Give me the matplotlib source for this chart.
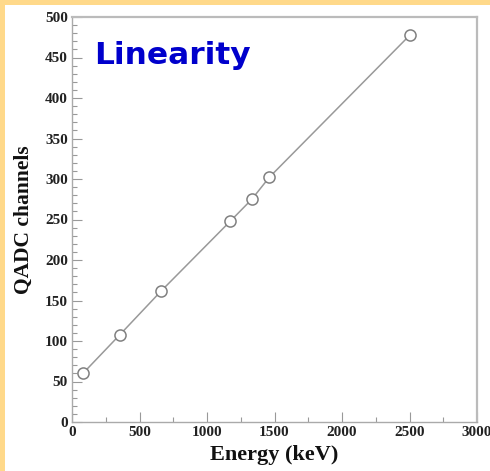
import matplotlib.pyplot as plt
from matplotlib.ticker import MultipleLocator
from matplotlib.patches import Rectangle

# Calibration points: gamma line energy vs. QADC peak position
energy_kev = [81, 356, 662, 1173, 1332, 1461, 2505]
qadc_channel = [60, 108, 162, 248, 275, 302, 478]

fig = plt.figure(figsize=(4.9, 4.71), dpi=100)
fig.patch.set_facecolor('#FFD98A')
# white slide panel inside the yellow border
fig.patches.append(Rectangle((5 / 490, 0), 1, 1 - 5 / 471, transform=fig.transFigure,
                             facecolor='white', edgecolor='none', zorder=-10))

ax = fig.add_axes([72 / 490, 1 - 422 / 471, 405 / 490, 405 / 471])
ax.set_facecolor('white')

ax.plot(energy_kev, qadc_channel, color='#999999', lw=1.1, marker='o',
        markersize=8, markerfacecolor='white', markeredgecolor='#808080',
        markeredgewidth=1.1)

ax.set_xlim(0, 3000)
ax.set_ylim(0, 500)
ax.xaxis.set_major_locator(MultipleLocator(500))
ax.xaxis.set_minor_locator(MultipleLocator(250))
ax.yaxis.set_major_locator(MultipleLocator(50))
ax.yaxis.set_minor_locator(MultipleLocator(10))
ax.tick_params(which='both', direction='in', top=False, right=False,
               color='#999999', width=0.8)
ax.tick_params(which='major', length=7, labelsize=11, pad=3)
ax.tick_params(which='minor', length=3.5)
for lab in ax.get_xticklabels() + ax.get_yticklabels():
    lab.set_family('Liberation Serif')
    lab.set_fontweight('bold')
    lab.set_color('#222222')

for side in ['left', 'bottom']:
    ax.spines[side].set_color('#aaaaaa')
    ax.spines[side].set_linewidth(1.0)
for side in ['top', 'right']:
    ax.spines[side].set_color('#bbbbbb')
    ax.spines[side].set_linewidth(1.6)

ax.set_xlabel('Energy (keV)', family='Liberation Serif', fontweight='bold',
              fontsize=16, color='#111111', labelpad=4)
ax.set_ylabel('QADC channels', family='Liberation Serif', fontweight='bold',
              fontsize=15.5, color='#111111', labelpad=8)

ax.text(0.055, 0.94, 'Linearity', transform=ax.transAxes, color='#0000CC',
        fontsize=22.5, fontweight='bold', family='DejaVu Sans', va='top', ha='left')

fig.savefig('out.png', dpi=100, facecolor=fig.get_facecolor())
